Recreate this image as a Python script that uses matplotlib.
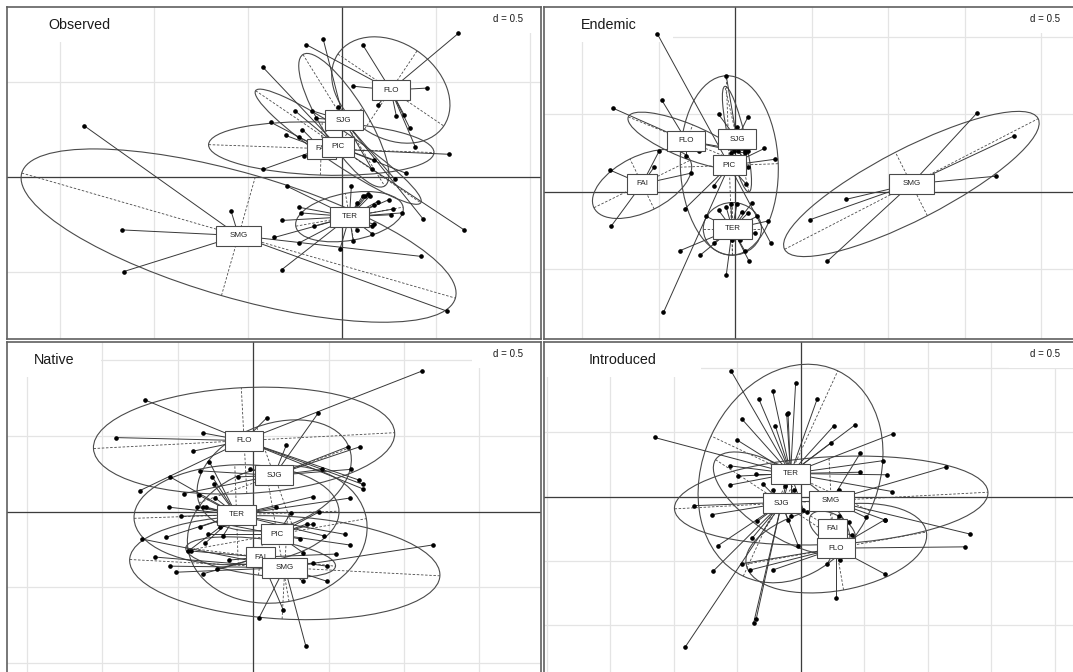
import matplotlib
matplotlib.use('Agg')
import matplotlib.pyplot as plt
import numpy as np
from matplotlib.patches import Ellipse, Rectangle
from matplotlib.collections import LineCollection
from matplotlib.transforms import IdentityTransform

plt.rcParams['font.family'] = ['Liberation Sans', 'DejaVu Sans']

# ---- Observed ----
obs_centres = {'FAI': (-0.11, 0.15), 'FLO': (0.26, 0.46), 'PIC': (-0.02, 0.16),
               'SJG': (0.01, 0.30), 'SMG': (-0.55, -0.31), 'TER': (0.04, -0.21)}
# half major axis, half minor axis, angle (degrees)
obs_ellipses = {'FAI': (0.60, 0.14, -2), 'FLO': (0.34, 0.25, -34), 'PIC': (0.53, 0.085, -34),
                'SJG': (0.41, 0.12, -58), 'SMG': (1.20, 0.33, -16), 'TER': (0.29, 0.125, 10)}
obs_fai = [(-0.38, 0.29), (-0.30, 0.22), (-0.23, 0.21), (-0.21, 0.25), (-0.20, 0.11), (-0.42, 0.04), (0.57, 0.12)]
obs_flo = [(0.62, 0.76), (0.11, 0.70), (-0.19, 0.70), (0.06, 0.48), (0.45, 0.47), (0.19, 0.38),
           (0.29, 0.32), (0.33, 0.33), (0.36, 0.26), (0.39, 0.16)]
obs_pic = [(-0.42, 0.58), (-0.25, 0.35), (0.17, 0.09), (0.34, 0.02), (0.65, -0.28)]
obs_sjg = [(-0.10, 0.73), (-0.16, 0.35), (-0.14, 0.31), (-0.02, 0.37), (0.16, 0.04), (0.28, -0.01), (0.43, -0.22)]
obs_smg = [(-1.37, 0.27), (-1.17, -0.28), (-1.16, -0.50), (-0.59, -0.18), (0.56, -0.71), (0.42, -0.42)]
obs_ter = [(0.05, -0.05), (0.08, -0.14), (0.11, -0.10), (0.12, -0.10), (0.14, -0.09), (0.15, -0.10),
           (0.17, -0.15), (0.19, -0.13), (0.25, -0.12), (0.27, -0.17), (0.32, -0.19), (0.26, -0.20),
           (0.17, -0.25), (0.16, -0.26), (0.16, -0.30), (0.08, -0.28), (0.06, -0.34), (-0.01, -0.38),
           (-0.23, -0.16), (-0.22, -0.19), (-0.32, -0.23), (-0.15, -0.26), (-0.23, -0.35), (-0.29, -0.05),
           (-0.32, -0.49), (-0.36, -0.32)]

# ---- Endemic ----
end_centres = {'FAI': (-0.61, 0.05), 'FLO': (-0.32, 0.33), 'PIC': (-0.04, 0.17),
               'SJG': (0.01, 0.34), 'SMG': (1.15, 0.05), 'TER': (-0.02, -0.24)}
end_ellipses = {'FAI': (0.35, 0.18, 26), 'FLO': (0.41, 0.11, -22), 'PIC': (0.58, 0.32, 92),
                'SJG': (0.35, 0.055, 103), 'SMG': (0.93, 0.23, 27), 'TER': (0.19, 0.17, 0)}
end_fai = [(-0.82, 0.14), (-0.81, -0.22), (-0.53, 0.16), (-0.29, 0.12), (-0.50, 0.26)]
end_flo = [(-0.80, 0.54), (-0.48, 0.59), (-0.24, 0.26), (-0.32, 0.23), (0.08, 0.26), (0.06, 0.25)]
end_pic = [(-0.51, 1.02), (-0.47, -0.78), (0.26, 0.21), (-0.14, 0.04), (0.23, -0.33), (-0.33, -0.11),
           (0.19, 0.28), (0.08, 0.16), (0.07, 0.05)]
end_sjg = [(-0.06, 0.75), (-0.11, 0.50), (0.08, 0.48), (0.01, 0.42), (-0.01, 0.26), (0.02, 0.26),
           (0.06, 0.26), (-0.03, 0.25), (0.03, 0.33), (0.05, 0.30)]
end_smg = [(1.58, 0.51), (1.82, 0.36), (1.70, 0.10), (0.72, -0.05), (0.49, -0.18), (0.60, -0.45)]
end_ter = [(-0.11, -0.12), (-0.06, -0.10), (-0.03, -0.08), (0.01, -0.08), (0.04, -0.13), (0.08, -0.14),
           (0.11, -0.07), (0.14, -0.16), (0.09, -0.45), (-0.06, -0.54), (-0.02, -0.31), (0.03, -0.31),
           (0.06, -0.38), (-0.14, -0.33), (-0.23, -0.41), (-0.36, -0.38), (-0.19, -0.16), (0.13, -0.27),
           (0.21, -0.19)]

# ---- Native ----
nat_centres = {'FAI': (0.05, -0.30), 'FLO': (-0.06, 0.47), 'PIC': (0.16, -0.15),
               'SJG': (0.14, 0.24), 'SMG': (0.21, -0.37), 'TER': (-0.11, -0.02)}
nat_ellipses = {'FAI': (0.50, 0.12, -7), 'FLO': (1.00, 0.35, 3), 'PIC': (0.60, 0.45, 10),
                'SJG': (0.53, 0.34, 20), 'SMG': (1.03, 0.34, -3), 'TER': (0.68, 0.33, 2)}
nat_fai = [(-0.41, -0.26), (-0.33, -0.41), (-0.24, -0.38), (-0.16, -0.32), (0.20, -0.65), (0.49, -0.36), (0.55, -0.28)]
nat_flo = [(-0.72, 0.74), (-0.91, 0.49), (-0.33, 0.52), (-0.40, 0.40), (0.09, 0.62), (1.12, 0.93),
           (0.70, 0.21), (0.73, 0.18), (0.73, 0.15), (-0.75, 0.14)]
nat_pic = [(0.36, -0.08), (0.40, -0.08), (0.64, -0.22), (0.33, -0.27), (0.25, -0.01), (0.31, -0.18),
           (0.44, 0.00), (-0.20, -0.08), (-0.30, -0.15)]
nat_sjg = [(0.43, 0.65), (0.22, 0.44), (0.63, 0.43), (0.71, 0.43), (0.46, 0.28), (0.65, 0.28),
           (-0.35, 0.27), (-0.46, 0.12), (-0.10, 0.23), (-0.02, 0.28)]
nat_smg = [(1.19, -0.22), (0.40, -0.34), (0.49, -0.46), (0.33, -0.46), (0.04, -0.70), (0.35, -0.89),
           (-0.74, -0.18), (-0.65, -0.30), (-0.55, -0.36), (-0.51, -0.40)]
nat_ter = [(-0.29, 0.33), (-0.27, 0.23), (-0.26, 0.18), (-0.55, 0.23), (-0.36, 0.11), (-0.25, 0.09),
           (-0.37, 0.03), (-0.33, 0.03), (-0.31, 0.03), (-0.56, 0.03), (-0.48, -0.03), (-0.35, -0.10),
           (-0.22, -0.10), (-0.20, -0.16), (-0.32, -0.21), (-0.58, -0.17), (-0.43, -0.26), (0.64, 0.09),
           (0.61, -0.15), (0.47, -0.16), (0.40, 0.10), (0.15, 0.03)]

# ---- Introduced ----
int_centres = {'FAI': (0.25, -0.25), 'FLO': (0.28, -0.40), 'SJG': (-0.15, -0.05),
               'SMG': (0.24, -0.03), 'TER': (-0.08, 0.18)}
int_ellipses = {'FAI': (0.20, 0.11, -30), 'FLO': (0.72, 0.33, 10), 'SJG': (0.62, 0.25, -33),
                'SMG': (1.235, 0.34, 3), 'TER': (0.88, 0.69, 65)}
int_fai = [(0.40, -0.30), (0.38, -0.20), (0.15, -0.28), (0.30, -0.15), (0.22, -0.36)]
int_flo = [(1.29, -0.39), (0.66, -0.60), (0.28, -0.79), (0.21, -0.52), (0.31, -0.49), (-0.46, -0.52),
           (-0.40, -0.57), (-0.22, -0.57), (0.66, -0.18)]
int_sjg = [(-0.70, -0.14), (-0.65, -0.38), (-0.69, -0.58), (-0.38, -0.32), (-0.35, -0.95), (-0.37, -0.98),
           (-0.91, -1.17), (-0.02, -0.38), (-0.34, -0.19), (-0.10, -0.18), (-0.22, 0.05), (-0.12, 0.08),
           (-0.05, 0.05), (0.05, -0.12), (-0.30, 0.10)]
int_smg = [(1.14, 0.23), (1.33, -0.29), (-0.84, -0.07), (0.47, 0.34), (0.51, -0.16), (0.66, -0.18),
           (0.12, -0.05), (0.30, 0.05)]
int_ter = [(-0.55, 0.98), (-0.04, 0.88), (-0.22, 0.82), (-0.33, 0.76), (0.13, 0.76), (-0.10, 0.65),
           (-0.11, 0.64), (-0.46, 0.60), (-0.20, 0.55), (0.26, 0.55), (0.43, 0.56), (0.73, 0.49),
           (-0.50, 0.44), (0.24, 0.42), (0.65, 0.28), (0.68, 0.17), (0.47, 0.19), (0.72, 0.04),
           (-0.56, 0.24), (-0.49, 0.16), (-0.56, 0.09), (-0.35, 0.18), (-1.15, 0.46), (-0.15, -0.08),
           (0.02, -0.10), (-0.08, -0.15)]

panels = [
    ('Observed', obs_centres, obs_ellipses,
     {'FAI': obs_fai, 'FLO': obs_flo, 'PIC': obs_pic, 'SJG': obs_sjg, 'SMG': obs_smg, 'TER': obs_ter},
     (-1.782, 1.059), (-0.857, 0.899), (7, 7, 541, 339)),
    ('Endemic', end_centres, end_ellipses,
     {'FAI': end_fai, 'FLO': end_flo, 'PIC': end_pic, 'SJG': end_sjg, 'SMG': end_smg, 'TER': end_ter},
     (-1.251, 2.239), (-0.952, 1.194), (544, 7, 1078, 339)),
    ('Native', nat_centres, nat_ellipses,
     {'FAI': nat_fai, 'FLO': nat_flo, 'PIC': nat_pic, 'SJG': nat_sjg, 'SMG': nat_smg, 'TER': nat_ter},
     (-1.632, 1.909), (-1.073, 1.122), (7, 342, 541, 674)),
    ('Introduced', int_centres, int_ellipses,
     {'FAI': int_fai, 'FLO': int_flo, 'SJG': int_sjg, 'SMG': int_smg, 'TER': int_ter},
     (-2.02, 2.182), (-1.378, 1.202), (544, 342, 1078, 674)),
]

W, H = 1073, 672
fig = plt.figure(figsize=(W / 100, H / 100), dpi=100)
fig.patch.set_facecolor('white')
renderer = fig.canvas.get_renderer()

LINE = '#383838'

for title, centres, ellipses, points, xlim, ylim, (l, t, r, b) in panels:
    ax = fig.add_axes([l / W, 1 - b / H, (r - l) / W, (b - t) / H])
    ax.set_xlim(*xlim)
    ax.set_ylim(*ylim)
    ax.set_xticks([])
    ax.set_yticks([])
    for sp in ax.spines.values():
        sp.set_color('#606060')
        sp.set_linewidth(1.2)

    # grid every 0.5
    for gx in np.arange(np.ceil(xlim[0] / 0.5) * 0.5, xlim[1], 0.5):
        ax.axvline(gx, color='#e4e4e4', lw=0.9, zorder=0)
    for gy in np.arange(np.ceil(ylim[0] / 0.5) * 0.5, ylim[1], 0.5):
        ax.axhline(gy, color='#e4e4e4', lw=0.9, zorder=0)
    ax.axvline(0, color='#3c3c3c', lw=0.9, zorder=1)
    ax.axhline(0, color='#3c3c3c', lw=0.9, zorder=1)

    pw, ph = r - l, b - t

    # title with its white background
    tt = ax.text(0, 0, title, fontsize=10.3, ha='center', va='center', transform=ax.transAxes,
                 color='#1a1a1a', zorder=1.6)
    tw = tt.get_window_extent(renderer).width
    tt.set_position((1.16 * tw / pw, 1 - 18 / ph))
    ax.add_patch(Rectangle((0, 1 - 35 / ph), 2.32 * tw / pw, 35 / ph, transform=ax.transAxes,
                           fc='white', ec='none', zorder=0.5))

    # scale box
    dt = ax.text(1 - 33 / pw, 1 - 12 / ph, 'd = 0.5', fontsize=7, ha='center', va='center',
                 transform=ax.transAxes, color='#1a1a1a', zorder=1.6)
    dw = dt.get_window_extent(renderer).width
    ax.add_patch(Rectangle((1 - 33 / pw - 1.2 * dw / pw, 1 - 26 / ph), 1.3, 26 / ph,
                           transform=ax.transAxes, fc='white', ec='none', zorder=0.5))

    for name, (cx, cy) in centres.items():
        a, e, ang = ellipses[name]
        th = np.deg2rad(ang)
        ax.add_patch(Ellipse((cx, cy), 2 * a, 2 * e, angle=ang, fill=False, ec='#4a4a4a', lw=0.8, zorder=2))
        ux, uy = a * np.cos(th), a * np.sin(th)
        vx, vy = -e * np.sin(th), e * np.cos(th)
        ax.plot([cx - ux, cx + ux], [cy - uy, cy + uy], color='#4a4a4a', lw=0.6, ls=(0, (3, 2)), zorder=2)
        ax.plot([cx - vx, cx + vx], [cy - vy, cy + vy], color='#4a4a4a', lw=0.6, ls=(0, (3, 2)), zorder=2)

    for name, pts in points.items():
        cx, cy = centres[name]
        segs = [[(px, py), (cx, cy)] for px, py in pts]
        ax.add_collection(LineCollection(segs, colors=LINE, linewidths=0.7, zorder=3))
        xs, ys = zip(*pts)
        ax.plot(xs, ys, 'o', ms=2.3, color='black', mec='black', zorder=4)

    # group labels in boxes, later ones on top
    for i, (name, (cx, cy)) in enumerate(centres.items()):
        z = 6 + 0.1 * i
        lt = ax.text(cx, cy, name, fontsize=5.8, ha='center', va='center', color='#222222', zorder=z + 0.05)
        lw_ = lt.get_window_extent(renderer).width
        px, py = ax.transData.transform((cx, cy))
        bw, bh = 2.45 * lw_, 20
        ax.add_patch(Rectangle((px - bw / 2, py - bh / 2), bw, bh, transform=IdentityTransform(),
                               fc='white', ec='#4a4a4a', lw=0.8, zorder=z))

fig.savefig('out.png', dpi=100)
